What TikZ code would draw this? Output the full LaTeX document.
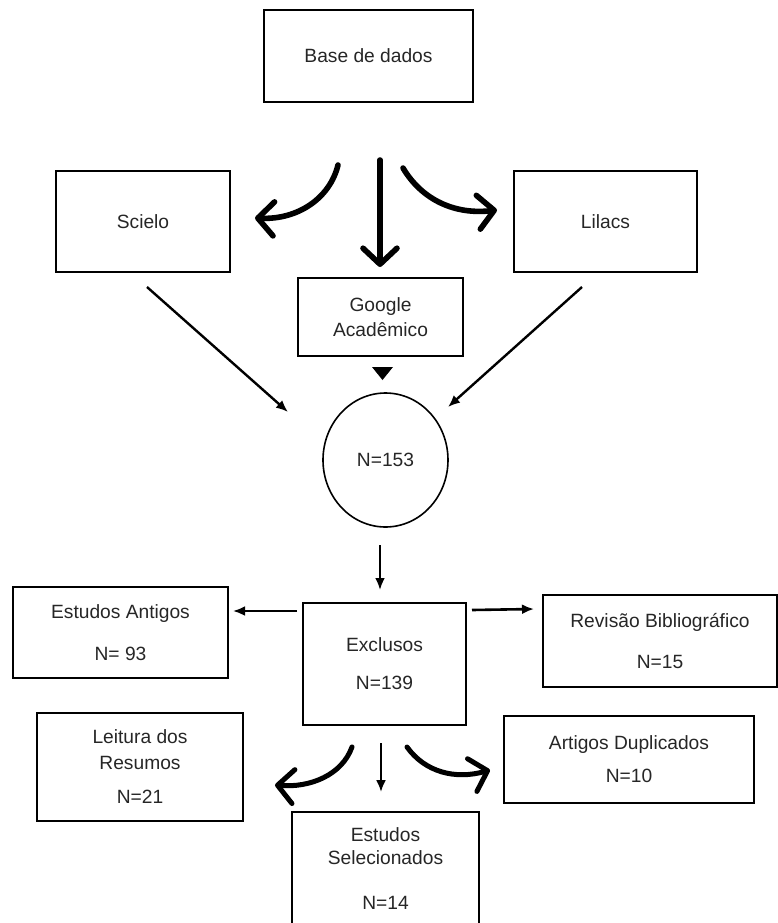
\documentclass[tikz,border=0pt]{standalone}
\usepackage{fontspec}
\setmainfont{Liberation Sans}
\usetikzlibrary{arrows.meta,shapes.geometric}

\begin{document}
\begin{tikzpicture}[x=0.5pt,y=-0.5pt,
  font=\fontsize{9.6}{12.5}\selectfont,
  box/.style={draw,line width=0.8pt,align=center,inner sep=0pt,text=black!85},
  curvearrow/.style={line width=2.8pt,line cap=round,-{Straight Barb[length=8pt,width=17pt,round]}},
  thinarrow/.style={line width=1.3pt,-{Latex[length=6pt,width=5pt]}}]

\clip (0,0) rectangle (778,923);

% ---------------- BASES ----------------

\node[box,minimum width=104.5pt,minimum height=46pt] (base) at (368.5,56) {Base de dados};
\node[box,minimum width=87pt,minimum height=50.5pt] (scielo) at (143,221.5) {Scielo};
\node[box,minimum width=91.5pt,minimum height=50.5pt] (lilacs) at (605.5,221.5) {Lilacs};
\node[box,minimum width=82.5pt,minimum height=39pt] (google) at (380.5,317) {Google\\Acadêmico};

\node[draw,ellipse,line width=0.8pt,minimum width=62.5pt,minimum height=67pt,inner sep=0pt,text=black!85] (n153) at (385.5,460) {N=153};

% ---------------- EXCLUSOS ----------------

\node[box,minimum width=81.5pt,minimum height=61pt] (exclusos) at (384.5,664) {Exclusos\\[6.5pt]N=139};
\node[box,minimum width=107.5pt,minimum height=45.5pt] (antigos) at (120.5,632.5) {Estudos Antigos\\[8.5pt]N= 93};
\node[box,minimum width=117pt,minimum height=46pt] (revisao) at (660,641) {Revisão Bibliográfico\\[8pt]N=15};
\node[box,minimum width=103pt,minimum height=54pt] (leitura) at (140,767) {Leitura dos\\[0.5pt]Resumos\\[4.5pt]N=21};
\node[box,minimum width=125pt,minimum height=43.5pt] (artigos) at (629,759.5) {Artigos Duplicados\\[4pt]N=10};
\node[box,minimum width=93.5pt,minimum height=57pt] (selec) at (385.5,869) {Estudos\\[-1pt]Selecionados\\[10pt]N=14};

% ---------------- ARROWS ----------------

\coordinate (b1) at (338,165);
\coordinate (b2) at (255,218);
\coordinate (b3) at (380,160);
\coordinate (b4) at (380,267);
\coordinate (b5) at (403,168);
\coordinate (b6) at (497,210);

\draw[curvearrow] (b1) .. controls (330,198) and (298,220) .. (b2);
\draw[curvearrow] (b3) -- (b4);
\draw[curvearrow] (b5) .. controls (422,200) and (455,215) .. (b6);

\fill[black] (372,367) -- (393,367) -- (382.5,380) -- cycle;

\coordinate (s1) at (147,287);
\coordinate (s2) at (288,412);
\coordinate (l1) at (582,287);
\coordinate (l2) at (448,407);

\draw[thinarrow,line width=1.2pt] (s1) -- (s2);
\draw[thinarrow,line width=1.2pt] (l1) -- (l2);

\coordinate (c1) at (380,545);
\coordinate (c2) at (380,590);
\draw[thinarrow] (c1) -- (c2);

\coordinate (e1) at (297,611);
\coordinate (e2) at (233,611);
\coordinate (e3) at (472,610);
\coordinate (e4) at (534,609);
\draw[thinarrow] (e1) -- (e2);
\draw[thinarrow] (e3) -- (e4);

\coordinate (d1) at (352,747);
\coordinate (d2) at (275,785);
\coordinate (d3) at (381,743);
\coordinate (d4) at (381,792);
\coordinate (d5) at (407,747);
\coordinate (d6) at (490,770);

\draw[curvearrow,line width=2.5pt] (d1) .. controls (342,775) and (310,788) .. (d2);
\draw[thinarrow,line width=1.1pt] (d3) -- (d4);
\draw[curvearrow,line width=2.5pt] (d5) .. controls (425,772) and (455,780) .. (d6);

\end{tikzpicture}
\end{document}
